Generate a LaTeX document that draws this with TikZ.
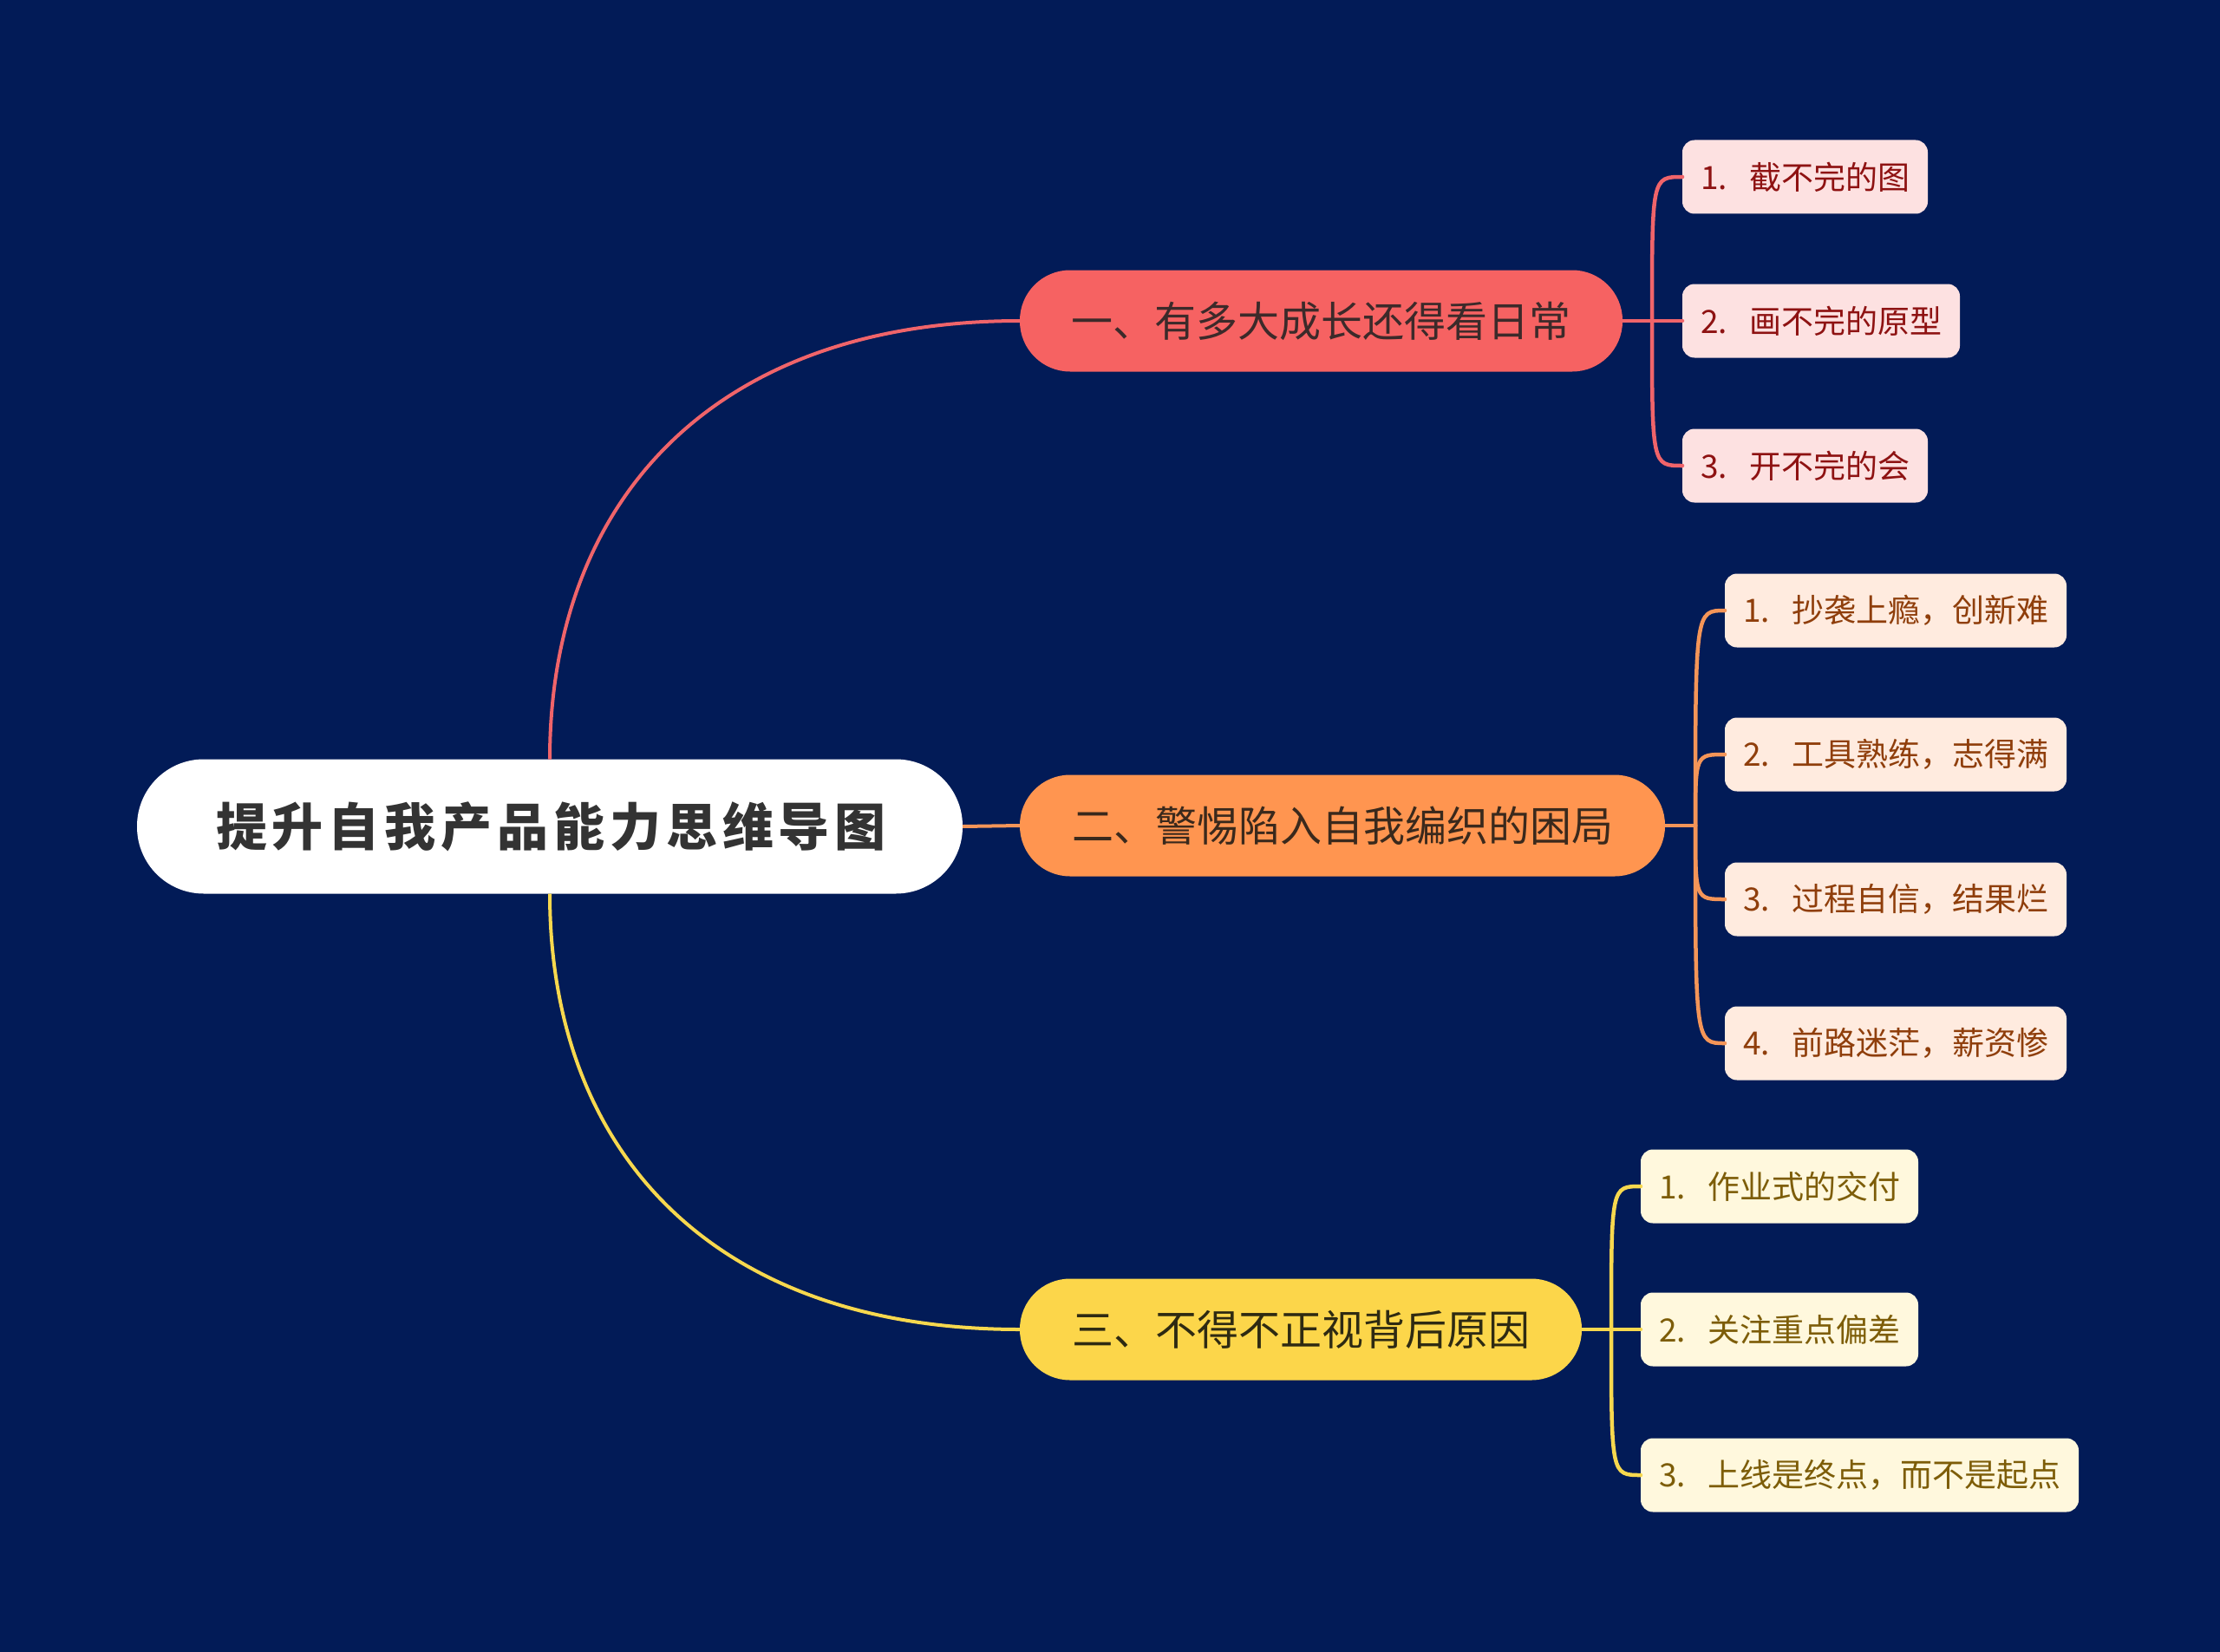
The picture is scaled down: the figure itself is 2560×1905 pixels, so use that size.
\documentclass[tikz,border=0pt]{standalone}
\usepackage{fontspec}
\setmainfont{Noto Sans CJK SC}
\usetikzlibrary{calc}
\definecolor{bgnavy}{HTML}{021B57}
\definecolor{rootink}{HTML}{333333}
\definecolor{redfill}{HTML}{F66262}
\definecolor{redlink}{HTML}{F0646A}
\definecolor{redleaf}{HTML}{FDE1E1}
\definecolor{redink}{HTML}{8E1212}
\definecolor{redbink}{HTML}{3C2A2A}
\definecolor{orafill}{HTML}{FF9550}
\definecolor{oralink}{HTML}{F49558}
\definecolor{oraleaf}{HTML}{FFEBDF}
\definecolor{oraink}{HTML}{8F3E0B}
\definecolor{orabink}{HTML}{3A291C}
\definecolor{yelfill}{HTML}{FCD64A}
\definecolor{yellink}{HTML}{F7D84E}
\definecolor{yelleaf}{HTML}{FFF8DD}
\definecolor{yelink}{HTML}{7D5D08}
\definecolor{yelbink}{HTML}{2E2A12}
\begin{document}
\begin{tikzpicture}[x=1pt,y=-1pt,
  every node/.style={inner sep=0pt,outer sep=0pt},
  rootbox/.style={fill=white,rounded corners=77pt,minimum width=952pt,minimum height=155pt,
    text=rootink,font=\fontsize{59}{64}\selectfont\bfseries\addfontfeature{LetterSpace=10}},
  branchbox/.style={rounded corners=58pt,minimum height=117pt,font=\fontsize{48}{56}\selectfont},
  leafbox/.style={rounded corners=14pt,minimum height=85pt,inner xsep=21pt,anchor=west,
    font=\fontsize{37}{44}\selectfont},
  redleafbox/.style={leafbox,fill=redleaf,text=redink},
  oraleafbox/.style={leafbox,fill=oraleaf,text=oraink},
  yelleafbox/.style={leafbox,fill=yelleaf,text=yelink},
  rootlink/.style={line width=4pt},
  leaflink/.style={line width=4.5pt,line cap=round}
]
\fill[bgnavy] (0,0) rectangle (2560,1905);

% root
\node[rootbox] (root) at (634,953) {\hspace*{3pt}提升自我产品能力思维导图};

% branches
\node[branchbox,fill=redfill,text=redbink,minimum width=695pt] (b1) at (1523.5,370) {一、有多大成长还得看日常};
\node[branchbox,fill=orafill,text=orabink,minimum width=744pt] (b2) at (1548,952) {二、警惕陷入自我编织的困局};
\node[branchbox,fill=yelfill,text=yelbink,minimum width=648pt] (b3) at (1500,1533) {三、不得不正视背后原因};

% leaves red
\node[redleafbox] (l11) at (1940,204) {\makebox[56pt][l]{1.}截不完的图};
\node[redleafbox] (l12) at (1940,370) {\makebox[56pt][l]{2.}画不完的原型};
\node[redleafbox] (l13) at (1940,537) {\makebox[56pt][l]{3.}开不完的会};

% leaves orange
\node[oraleafbox] (l21) at (1989,704) {\makebox[56pt][l]{1.}抄袭上瘾，创新难};
\node[oraleafbox] (l22) at (1989,870) {\makebox[56pt][l]{2.}工具熟练，志得满};
\node[oraleafbox] (l23) at (1989,1037) {\makebox[56pt][l]{3.}过程自信，结果烂};
\node[oraleafbox] (l24) at (1989,1203) {\makebox[56pt][l]{4.}前路迷茫，薪资惨};

% leaves yellow
\node[yelleafbox] (l31) at (1892,1368) {\makebox[56pt][l]{1.}作业式的交付};
\node[yelleafbox] (l32) at (1892,1533) {\makebox[56pt][l]{2.}关注重点偏差};
\node[yelleafbox] (l33) at (1892,1701) {\makebox[56pt][l]{3.}上线是终点，而不是起点};

% root connectors
\draw[rootlink,redlink] (root.north) .. controls (634,580) and (820,370) .. (b1.west);
\draw[rootlink,oralink] (root.east) -- (b2.west);
\draw[rootlink,yellink] (root.south) .. controls (634,1326) and (820,1533) .. (b3.west);

% red leaf connectors
\coordinate (j1) at (1905,370);
\draw[leaflink,redlink] (b1.east) -- (l12.west);
\draw[leaflink,redlink] (j1) .. controls (j1 |- l11.west) and (j1 |- l11.west) .. (l11.west);
\draw[leaflink,redlink] (j1) .. controls (j1 |- l13.west) and (j1 |- l13.west) .. (l13.west);

% orange leaf connectors
\coordinate (j2) at (1955,952);
\draw[leaflink,oralink] (b2.east) -- (j2);
\draw[leaflink,oralink] (j2) .. controls (j2 |- l21.west) and (j2 |- l21.west) .. (l21.west);
\draw[leaflink,oralink] (j2) .. controls (j2 |- l22.west) and (j2 |- l22.west) .. (l22.west);
\draw[leaflink,oralink] (j2) .. controls (j2 |- l23.west) and (j2 |- l23.west) .. (l23.west);
\draw[leaflink,oralink] (j2) .. controls (j2 |- l24.west) and (j2 |- l24.west) .. (l24.west);

% yellow leaf connectors
\coordinate (j3) at (1858,1533);
\draw[leaflink,yellink] (b3.east) -- (l32.west);
\draw[leaflink,yellink] (j3) .. controls (j3 |- l31.west) and (j3 |- l31.west) .. (l31.west);
\draw[leaflink,yellink] (j3) .. controls (j3 |- l33.west) and (j3 |- l33.west) .. (l33.west);
\end{tikzpicture}
\end{document}
